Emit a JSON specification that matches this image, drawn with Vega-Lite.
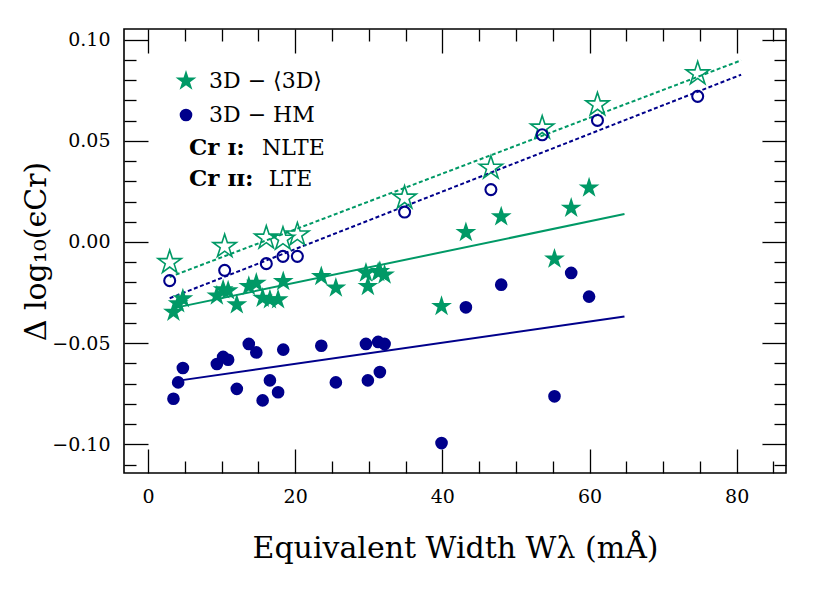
{
  "$schema": "https://vega.github.io/schema/vega-lite/v6.json",
  "autosize": {"type": "none"},
  "padding": {"left": 124, "top": 29, "right": 43, "bottom": 120},
  "width": 662,
  "height": 444,
  "background": "white",
  "config": {
    "view": {"stroke": "black", "strokeWidth": 1.6},
    "axis": {
      "grid": false, "domain": false, "tickColor": "black", "tickWidth": 1.3,
      "labelFont": "DejaVu Serif", "labelFontSize": 19, "labelColor": "black",
      "titleFont": "DejaVu Serif", "titleFontSize": 30, "titleFontWeight": "normal", "titleColor": "black"
    },
    "legend": {"labelFont": "DejaVu Serif", "labelFontSize": 22, "labelColor": "black"}
  },
  "datasets": {
    "pts": [
      {"W": 3.46, "d": -0.0347, "grp": "3D − ⟨3D⟩", "ion": "Cr I"},
      {"W": 4.10, "d": -0.0305, "grp": "3D − ⟨3D⟩", "ion": "Cr I"},
      {"W": 4.74, "d": -0.0280, "grp": "3D − ⟨3D⟩", "ion": "Cr I"},
      {"W": 9.36, "d": -0.0266, "grp": "3D − ⟨3D⟩", "ion": "Cr I"},
      {"W": 10.21, "d": -0.0236, "grp": "3D − ⟨3D⟩", "ion": "Cr I"},
      {"W": 10.89, "d": -0.0241, "grp": "3D − ⟨3D⟩", "ion": "Cr I"},
      {"W": 12.07, "d": -0.0310, "grp": "3D − ⟨3D⟩", "ion": "Cr I"},
      {"W": 13.70, "d": -0.0219, "grp": "3D − ⟨3D⟩", "ion": "Cr I"},
      {"W": 14.72, "d": -0.0203, "grp": "3D − ⟨3D⟩", "ion": "Cr I"},
      {"W": 15.58, "d": -0.0277, "grp": "3D − ⟨3D⟩", "ion": "Cr I"},
      {"W": 16.57, "d": -0.0285, "grp": "3D − ⟨3D⟩", "ion": "Cr I"},
      {"W": 17.68, "d": -0.0285, "grp": "3D − ⟨3D⟩", "ion": "Cr I"},
      {"W": 18.38, "d": -0.0195, "grp": "3D − ⟨3D⟩", "ion": "Cr I"},
      {"W": 23.55, "d": -0.0170, "grp": "3D − ⟨3D⟩", "ion": "Cr I"},
      {"W": 25.53, "d": -0.0227, "grp": "3D − ⟨3D⟩", "ion": "Cr I"},
      {"W": 29.62, "d": -0.0153, "grp": "3D − ⟨3D⟩", "ion": "Cr I"},
      {"W": 29.88, "d": -0.0219, "grp": "3D − ⟨3D⟩", "ion": "Cr I"},
      {"W": 31.28, "d": -0.0150, "grp": "3D − ⟨3D⟩", "ion": "Cr I"},
      {"W": 31.51, "d": -0.0145, "grp": "3D − ⟨3D⟩", "ion": "Cr I"},
      {"W": 32.15, "d": -0.0162, "grp": "3D − ⟨3D⟩", "ion": "Cr I"},
      {"W": 39.89, "d": -0.0318, "grp": "3D − ⟨3D⟩", "ion": "Cr I"},
      {"W": 43.20, "d": 0.0047, "grp": "3D − ⟨3D⟩", "ion": "Cr I"},
      {"W": 48.00, "d": 0.0125, "grp": "3D − ⟨3D⟩", "ion": "Cr I"},
      {"W": 55.24, "d": -0.0084, "grp": "3D − ⟨3D⟩", "ion": "Cr I"},
      {"W": 57.51, "d": 0.0168, "grp": "3D − ⟨3D⟩", "ion": "Cr I"},
      {"W": 59.94, "d": 0.0268, "grp": "3D − ⟨3D⟩", "ion": "Cr I"},
      {"W": 3.46, "d": -0.0775, "grp": "3D − HM", "ion": "Cr I"},
      {"W": 4.10, "d": -0.0694, "grp": "3D − HM", "ion": "Cr I"},
      {"W": 4.74, "d": -0.0623, "grp": "3D − HM", "ion": "Cr I"},
      {"W": 9.36, "d": -0.0603, "grp": "3D − HM", "ion": "Cr I"},
      {"W": 10.21, "d": -0.0568, "grp": "3D − HM", "ion": "Cr I"},
      {"W": 10.89, "d": -0.0582, "grp": "3D − HM", "ion": "Cr I"},
      {"W": 12.07, "d": -0.0726, "grp": "3D − HM", "ion": "Cr I"},
      {"W": 13.70, "d": -0.0504, "grp": "3D − HM", "ion": "Cr I"},
      {"W": 14.72, "d": -0.0546, "grp": "3D − HM", "ion": "Cr I"},
      {"W": 15.58, "d": -0.0783, "grp": "3D − HM", "ion": "Cr I"},
      {"W": 16.57, "d": -0.0684, "grp": "3D − HM", "ion": "Cr I"},
      {"W": 17.68, "d": -0.0743, "grp": "3D − HM", "ion": "Cr I"},
      {"W": 18.38, "d": -0.0532, "grp": "3D − HM", "ion": "Cr I"},
      {"W": 23.55, "d": -0.0513, "grp": "3D − HM", "ion": "Cr I"},
      {"W": 25.53, "d": -0.0694, "grp": "3D − HM", "ion": "Cr I"},
      {"W": 29.62, "d": -0.0504, "grp": "3D − HM", "ion": "Cr I"},
      {"W": 29.88, "d": -0.0684, "grp": "3D − HM", "ion": "Cr I"},
      {"W": 31.28, "d": -0.0494, "grp": "3D − HM", "ion": "Cr I"},
      {"W": 31.51, "d": -0.0643, "grp": "3D − HM", "ion": "Cr I"},
      {"W": 32.15, "d": -0.0504, "grp": "3D − HM", "ion": "Cr I"},
      {"W": 39.89, "d": -0.0994, "grp": "3D − HM", "ion": "Cr I"},
      {"W": 43.20, "d": -0.0323, "grp": "3D − HM", "ion": "Cr I"},
      {"W": 48.00, "d": -0.0211, "grp": "3D − HM", "ion": "Cr I"},
      {"W": 55.24, "d": -0.0763, "grp": "3D − HM", "ion": "Cr I"},
      {"W": 57.51, "d": -0.0153, "grp": "3D − HM", "ion": "Cr I"},
      {"W": 59.94, "d": -0.0270, "grp": "3D − HM", "ion": "Cr I"},
      {"W": 2.95, "d": -0.0101, "grp": "3D − ⟨3D⟩", "ion": "Cr II"},
      {"W": 10.42, "d": -0.0022, "grp": "3D − ⟨3D⟩", "ion": "Cr II"},
      {"W": 16.08, "d": 0.0020, "grp": "3D − ⟨3D⟩", "ion": "Cr II"},
      {"W": 18.34, "d": 0.0015, "grp": "3D − ⟨3D⟩", "ion": "Cr II"},
      {"W": 20.30, "d": 0.0036, "grp": "3D − ⟨3D⟩", "ion": "Cr II"},
      {"W": 34.87, "d": 0.0218, "grp": "3D − ⟨3D⟩", "ion": "Cr II"},
      {"W": 46.60, "d": 0.0366, "grp": "3D − ⟨3D⟩", "ion": "Cr II"},
      {"W": 53.57, "d": 0.0564, "grp": "3D − ⟨3D⟩", "ion": "Cr II"},
      {"W": 61.08, "d": 0.0679, "grp": "3D − ⟨3D⟩", "ion": "Cr II"},
      {"W": 74.70, "d": 0.0832, "grp": "3D − ⟨3D⟩", "ion": "Cr II"},
      {"W": 2.95, "d": -0.0191, "grp": "3D − HM", "ion": "Cr II"},
      {"W": 10.42, "d": -0.0140, "grp": "3D − HM", "ion": "Cr II"},
      {"W": 16.08, "d": -0.0107, "grp": "3D − HM", "ion": "Cr II"},
      {"W": 18.34, "d": -0.0071, "grp": "3D − HM", "ion": "Cr II"},
      {"W": 20.30, "d": -0.0071, "grp": "3D − HM", "ion": "Cr II"},
      {"W": 34.87, "d": 0.0148, "grp": "3D − HM", "ion": "Cr II"},
      {"W": 46.60, "d": 0.0259, "grp": "3D − HM", "ion": "Cr II"},
      {"W": 53.57, "d": 0.0530, "grp": "3D − HM", "ion": "Cr II"},
      {"W": 61.08, "d": 0.0601, "grp": "3D − HM", "ion": "Cr II"},
      {"W": 74.70, "d": 0.0720, "grp": "3D − HM", "ion": "Cr II"}
    ],
    "fits": [
      {"W": 3.46, "d": -0.0327, "fit": "g1"},
      {"W": 64.75, "d": 0.0138, "fit": "g1"},
      {"W": 3.46, "d": -0.0689, "fit": "b1"},
      {"W": 64.75, "d": -0.0368, "fit": "b1"},
      {"W": 2.95, "d": -0.0173, "fit": "g2"},
      {"W": 80.6, "d": 0.0898, "fit": "g2"},
      {"W": 2.95, "d": -0.0278, "fit": "b2"},
      {"W": 80.6, "d": 0.0827, "fit": "b2"}
    ]
  },
  "resolve": {"axis": {"x": "independent", "y": "independent"}},
  "layer": [
    {
      "data": {"name": "fits"},
      "transform": [{"filter": "datum.fit === 'g1'"}],
      "mark": {"type": "line", "color": "#009966", "strokeWidth": 2},
      "encoding": {
        "x": {"field": "W", "type": "quantitative", "scale": {"domain": [-3.26, 86.7], "nice": false, "zero": false},
              "axis": {"orient": "bottom", "values": [0, 20, 40, 60, 80], "format": "d", "tickSize": -24, "labelPadding": 38,
                       "title": "Equivalent Width Wλ (mÅ)", "titlePadding": 27}},
        "y": {"field": "d", "type": "quantitative", "scale": {"domain": [-0.1142, 0.1053], "nice": false, "zero": false},
              "axis": {"orient": "left", "values": [-0.1, -0.05, 0, 0.05, 0.1], "format": ".2f", "tickSize": -24, "labelPadding": 38,
                       "title": "Δ log₁₀(ϵCr)", "titlePadding": 0}}
      }
    },
    {
      "data": {"name": "fits"},
      "transform": [{"filter": "datum.fit === 'b1'"}],
      "mark": {"type": "line", "color": "#00008B", "strokeWidth": 2},
      "encoding": {
        "x": {"field": "W", "type": "quantitative",
              "axis": {"orient": "bottom", "values": [5, 10, 15, 25, 30, 35, 45, 50, 55, 65, 70, 75, 85], "tickSize": -12, "labels": false, "title": null}},
        "y": {"field": "d", "type": "quantitative",
              "axis": {"orient": "left", "values": [-0.11, -0.09, -0.08, -0.07, -0.06, -0.04, -0.03, -0.02, -0.01, 0.01, 0.02, 0.03, 0.04, 0.06, 0.07, 0.08, 0.09], "tickSize": -12, "labels": false, "title": null}}
      }
    },
    {
      "data": {"name": "fits"},
      "transform": [{"filter": "datum.fit === 'g2'"}],
      "mark": {"type": "line", "color": "#009966", "strokeWidth": 2, "strokeDash": [4, 2.5]},
      "encoding": {
        "x": {"field": "W", "type": "quantitative",
              "axis": {"orient": "top", "values": [0, 20, 40, 60, 80], "tickSize": -24, "labels": false, "title": null}},
        "y": {"field": "d", "type": "quantitative",
              "axis": {"orient": "right", "values": [-0.1, -0.05, 0, 0.05, 0.1], "tickSize": -24, "labels": false, "title": null}}
      }
    },
    {
      "data": {"name": "fits"},
      "transform": [{"filter": "datum.fit === 'b2'"}],
      "mark": {"type": "line", "color": "#00008B", "strokeWidth": 2, "strokeDash": [4, 2.5]},
      "encoding": {
        "x": {"field": "W", "type": "quantitative",
              "axis": {"orient": "top", "values": [5, 10, 15, 25, 30, 35, 45, 50, 55, 65, 70, 75, 85], "tickSize": -12, "labels": false, "title": null}},
        "y": {"field": "d", "type": "quantitative",
              "axis": {"orient": "right", "values": [-0.11, -0.09, -0.08, -0.07, -0.06, -0.04, -0.03, -0.02, -0.01, 0.01, 0.02, 0.03, 0.04, 0.06, 0.07, 0.08, 0.09], "tickSize": -12, "labels": false, "title": null}}
      }
    },
    {
      "data": {"name": "pts"},
      "transform": [{"filter": "datum.ion === 'Cr II' && datum.grp === '3D − ⟨3D⟩'"}],
      "mark": {"type": "point", "filled": false, "opacity": 1, "stroke": "#009966", "strokeWidth": 1.6, "size": 600,
               "shape": "M0,-1L0.2245,-0.309L0.9511,-0.309L0.3633,0.118L0.5878,0.809L0,0.382L-0.5878,0.809L-0.3633,0.118L-0.9511,-0.309L-0.2245,-0.309Z"},
      "encoding": {
        "x": {"field": "W", "type": "quantitative", "axis": null},
        "y": {"field": "d", "type": "quantitative", "axis": null}
      }
    },
    {
      "data": {"name": "pts"},
      "transform": [{"filter": "datum.ion === 'Cr II' && datum.grp === '3D − HM'"}],
      "mark": {"type": "point", "filled": false, "opacity": 1, "stroke": "#00008B", "strokeWidth": 2.1, "size": 120, "shape": "circle"},
      "encoding": {
        "x": {"field": "W", "type": "quantitative", "axis": null},
        "y": {"field": "d", "type": "quantitative", "axis": null}
      }
    },
    {
      "data": {"name": "pts"},
      "transform": [{"filter": "datum.ion === 'Cr I'"}],
      "mark": {"type": "point", "filled": true, "opacity": 1, "strokeWidth": 0},
      "encoding": {
        "x": {"field": "W", "type": "quantitative", "axis": null},
        "y": {"field": "d", "type": "quantitative", "axis": null},
        "color": {"field": "grp", "type": "nominal",
                  "scale": {"domain": ["3D − ⟨3D⟩", "3D − HM"], "range": ["#009966", "#00008B"]},
                  "legend": {"title": null, "orient": "none", "legendX": 50, "legendY": 40, "padding": 0, "rowPadding": 12, "labelOffset": 11}},
        "shape": {"field": "grp", "type": "nominal",
                  "scale": {"domain": ["3D − ⟨3D⟩", "3D − HM"], "range": ["M0,-1L0.2245,-0.309L0.9511,-0.309L0.3633,0.118L0.5878,0.809L0,0.382L-0.5878,0.809L-0.3633,0.118L-0.9511,-0.309L-0.2245,-0.309Z", "circle"]},
                  "legend": {"title": null, "orient": "none", "legendX": 50, "legendY": 40, "padding": 0, "rowPadding": 12, "labelOffset": 11}},
        "size": {"field": "grp", "type": "nominal",
                 "scale": {"domain": ["3D − ⟨3D⟩", "3D − HM"], "range": [480, 160]},
                 "legend": {"title": null, "orient": "none", "legendX": 50, "legendY": 40, "padding": 0, "rowPadding": 12, "labelOffset": 11}}
      }
    },
    {
      "data": {"values": [{}]},
      "mark": {"type": "text", "text": "Cr ɪ:", "font": "DejaVu Serif", "fontWeight": "bold", "fontSize": 23, "align": "left", "baseline": "alphabetic", "color": "black"},
      "encoding": {"x": {"datum": 5.58, "type": "quantitative", "axis": null}, "y": {"datum": 0.0432, "type": "quantitative", "axis": null}}
    },
    {
      "data": {"values": [{}]},
      "mark": {"type": "text", "text": "NLTE", "font": "DejaVu Serif", "fontSize": 22, "align": "left", "baseline": "alphabetic", "color": "black"},
      "encoding": {"x": {"datum": 15.5, "type": "quantitative", "axis": null}, "y": {"datum": 0.0432, "type": "quantitative", "axis": null}}
    },
    {
      "data": {"values": [{}]},
      "mark": {"type": "text", "text": "Cr ɪɪ:", "font": "DejaVu Serif", "fontWeight": "bold", "fontSize": 23, "align": "left", "baseline": "alphabetic", "color": "black"},
      "encoding": {"x": {"datum": 5.58, "type": "quantitative", "axis": null}, "y": {"datum": 0.0278, "type": "quantitative", "axis": null}}
    },
    {
      "data": {"values": [{}]},
      "mark": {"type": "text", "text": "LTE", "font": "DejaVu Serif", "fontSize": 22, "align": "left", "baseline": "alphabetic", "color": "black"},
      "encoding": {"x": {"datum": 16.4, "type": "quantitative", "axis": null}, "y": {"datum": 0.0278, "type": "quantitative", "axis": null}}
    }
  ]
}
